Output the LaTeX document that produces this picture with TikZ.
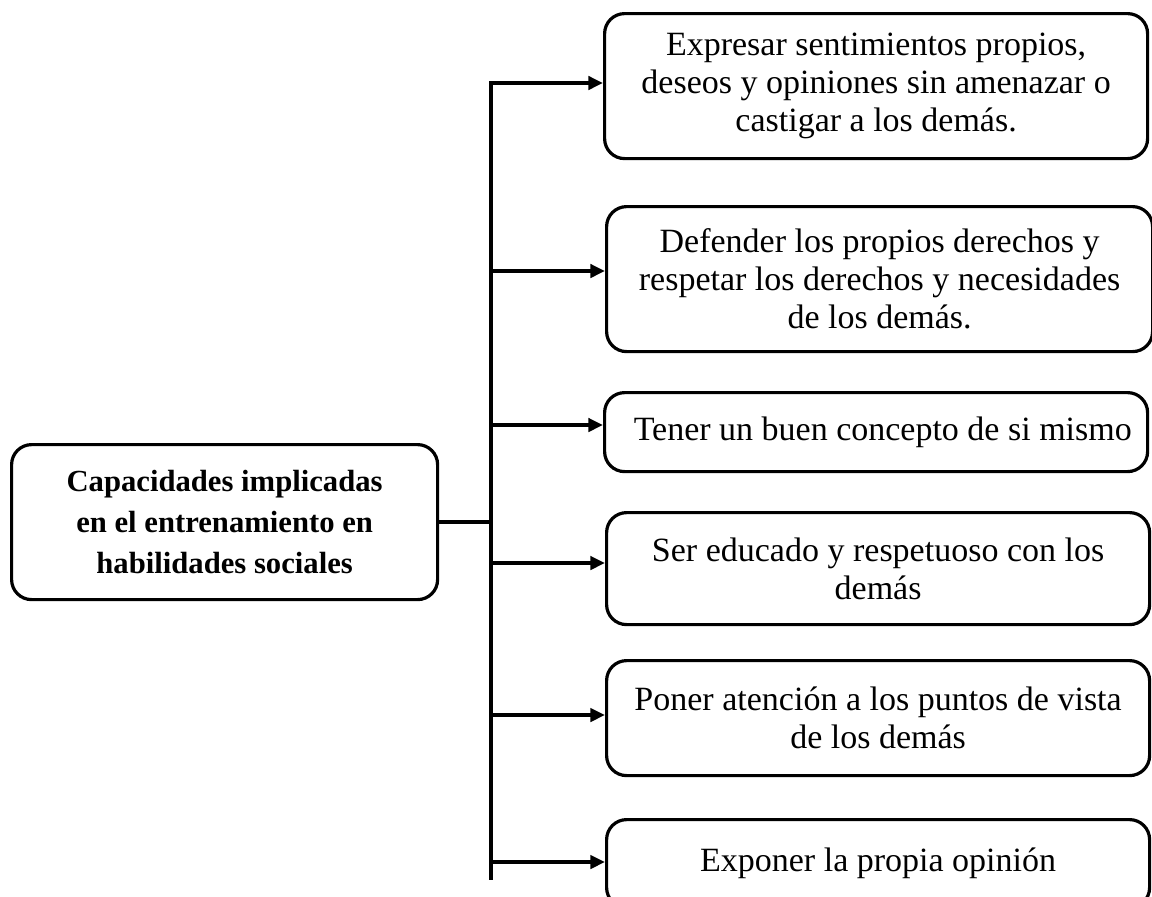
\documentclass[tikz,border=0pt]{standalone}
\usepackage{fontspec}
\setmainfont{Liberation Serif}
\usetikzlibrary{arrows.meta}
\begin{document}
\begin{tikzpicture}[x=0.75pt,y=-0.75pt,
  box/.style={draw, line width=2.4pt, rounded corners=15pt, align=center,
    font=\fontsize{25.5}{28.5}\selectfont, inner sep=0pt, anchor=north west},
  mainbox/.style={box, font=\fontsize{23}{30.5}\selectfont\bfseries},
  conn/.style={line width=2.6pt},
  arr/.style={line width=2.6pt, -{Triangle[length=11pt,width=10pt]}}]
\clip (0,0) rectangle (1152,896);
\useasboundingbox (0,0) rectangle (1152,896);
\node[mainbox, minimum width=319.5pt, minimum height=116.25pt] (L) at (10,443)
  {Capacidades implicadas\\en el entrenamiento en\\habilidades sociales};
\node[box, minimum width=407.25pt, minimum height=108.75pt] (b1) at (603,12)
  {Expresar sentimientos propios,\\deseos y opiniones sin amenazar o\\castigar a los demás.};
\node[box, minimum width=409.5pt, minimum height=108.75pt] (b2) at (605,205)
  {Defender los propios derechos y\\respetar los derechos y necesidades\\de los demás.};
\node[box, minimum width=407.25pt, minimum height=59.25pt] (b3) at (603,391)
  {\hspace*{10pt}Tener un buen concepto de si mismo};
\node[box, minimum width=407.25pt, minimum height=84pt] (b4) at (605,511)
  {Ser educado y respetuoso con los\\demás};
\node[box, minimum width=407.25pt, minimum height=86.25pt] (b5) at (605,659)
  {Poner atención a los puntos de vista\\de los demás};
\node[box, minimum width=407.25pt, minimum height=66pt] (b6) at (605,818)
  {Exponer la propia opinión};
\coordinate (top) at (491,81);
\coordinate (bot) at (491,880);
\coordinate (a1) at (491,83);
\coordinate (a2) at (491,271);
\coordinate (a3) at (491,425);
\coordinate (a4) at (491,563);
\coordinate (a5) at (491,715);
\coordinate (a6) at (491,862);
\draw[conn] (top) -- (bot);
\draw[conn] (L.east) -- (L.east -| top);
\draw[arr] (a1) -- (a1 -| b1.west);
\draw[arr] (a2) -- (a2 -| b2.west);
\draw[arr] (a3) -- (a3 -| b3.west);
\draw[arr] (a4) -- (a4 -| b4.west);
\draw[arr] (a5) -- (a5 -| b5.west);
\draw[arr] (a6) -- (a6 -| b6.west);
\end{tikzpicture}
\end{document}
